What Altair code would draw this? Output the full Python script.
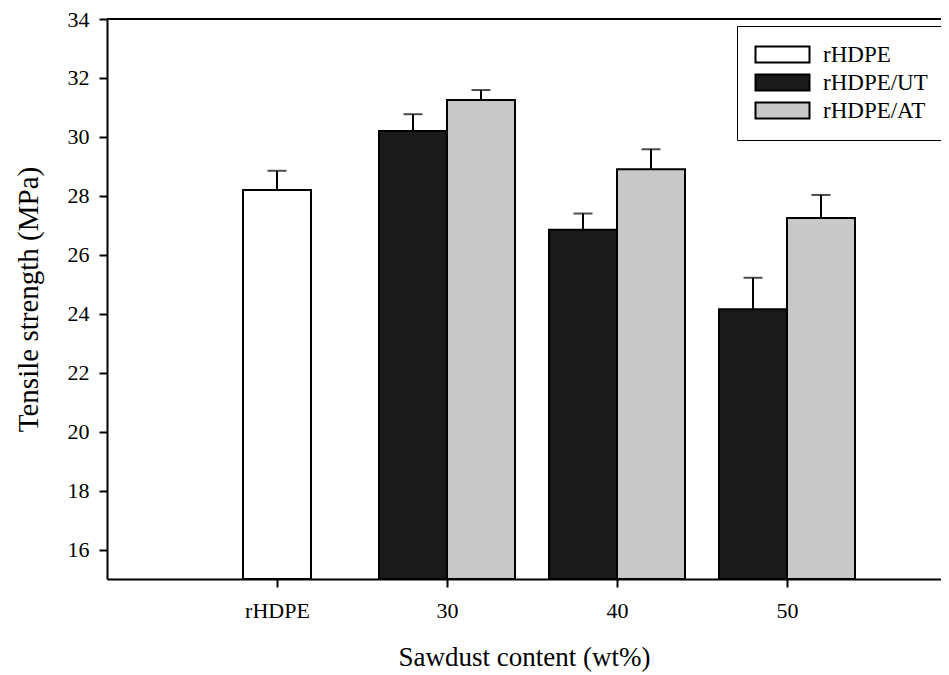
import json
import altair as alt
import pandas as pd

# ---- data ----
categories = ["rHDPE", "30", "40", "50"]
series = ["rHDPE", "rHDPE/UT", "rHDPE/AT"]
bar_group = ["rHDPE", "30", "30", "40", "40", "50", "50"]
bar_series = ["rHDPE", "rHDPE/UT", "rHDPE/AT", "rHDPE/UT", "rHDPE/AT", "rHDPE/UT", "rHDPE/AT"]
strength = [28.2, 30.2, 31.25, 26.85, 28.9, 24.15, 27.25]
error = [0.65, 0.57, 0.34, 0.55, 0.68, 1.07, 0.78]
y_ticks = [16, 18, 20, 22, 24, 26, 28, 30, 32, 34]

# ---- layout ----
W, H = 834, 560
step_px = 170.0
x_max = W / step_px
bar_w = 0.4
offsets = {"rHDPE": (-bar_w / 2, bar_w / 2), "rHDPE/UT": (-bar_w, 0.0), "rHDPE/AT": (0.0, bar_w)}

rows = []
for g, s, v, e in zip(bar_group, bar_series, strength, error):
    pos = categories.index(g) + 1
    a, b = offsets[s]
    rows.append({"group": g, "series": s, "strength": v, "top": v + e,
                 "x0": pos + a, "x1": pos + b, "xc": pos + (a + b) / 2})
df = pd.DataFrame(rows)

FONT = "Liberation Serif"
label_expr = "%s[datum.value - 1]" % json.dumps(categories)

xscale = alt.Scale(domain=[0, x_max], nice=False, zero=False)
yscale = alt.Scale(domain=[15, 34], nice=False, zero=False)

xaxis = alt.Axis(values=[1, 2, 3, 4], labelExpr=label_expr, title="Sawdust content (wt%)",
                 labelPadding=13, titlePadding=23)
yaxis = alt.Axis(values=y_ticks, title="Tensile strength (MPa)", labelPadding=10,
                 titlePadding=24, titleFontSize=29)

base = alt.Chart(df)

bars = base.mark_bar(stroke="black", strokeWidth=2).encode(
    x=alt.X("x0:Q", scale=xscale, axis=xaxis),
    x2="x1:Q",
    y=alt.Y("strength:Q", scale=yscale, axis=yaxis),
    y2=alt.datum(15),
    fill=alt.Fill("series:N", scale=alt.Scale(domain=series, range=["white", "#1a1a1a", "#c8c8c8"]),
                  legend=alt.Legend(title=None, orient="none", legendX=630, legendY=7,
                                    strokeColor="black", padding=17,
                                    symbolType="M-1,-0.8L4.4,-0.8L4.4,0.8L-1,0.8Z", symbolSize=400,
                                    symbolStrokeColor="black", symbolStrokeWidth=2,
                                    symbolOpacity=1, labelFont=FONT, labelFontSize=23,
                                    labelColor="black", labelOffset=46, rowPadding=3)),
)

err = base.mark_rule(color="black", strokeWidth=2).encode(
    x=alt.X("xc:Q", scale=xscale), y=alt.Y("strength:Q", scale=yscale), y2="top:Q"
)
caps = base.mark_tick(color="black", thickness=2, size=19, orient="horizontal").encode(
    x=alt.X("xc:Q", scale=xscale), y=alt.Y("top:Q", scale=yscale)
)
top_line = alt.Chart(df).mark_rule(color="black", strokeWidth=2).encode(
    x=alt.value(0), x2=alt.value(W), y=alt.value(0)
)

chart = alt.layer(bars, err, caps, top_line).properties(
    width=W, height=H,
    autosize=alt.AutoSizeParams(type="none"),
    padding={"left": 99, "top": 11, "right": 0, "bottom": 96},
).configure_view(stroke=None).configure_axis(
    grid=False, domainColor="black", domainWidth=2, tickColor="black", tickWidth=2, tickSize=8,
    labelFont=FONT, labelFontSize=22, labelColor="black",
    titleFont=FONT, titleFontSize=27, titleFontWeight="normal", titleColor="black",
)

chart.save("out.html", embed_options={"renderer": "svg", "actions": False})
